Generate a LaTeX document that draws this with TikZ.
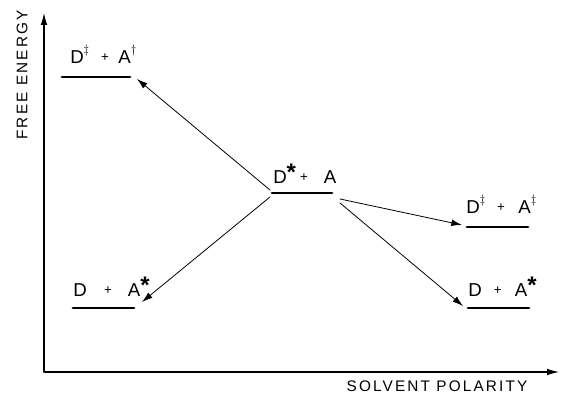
\documentclass[tikz,border=0pt]{standalone}
\usepackage{fontspec}
\setmainfont{Liberation Sans}
\newfontfamily\axisfont[LetterSpace=14]{Liberation Sans}
\usepackage{tkz-euclide}
\usetikzlibrary{arrows.meta}
\newcommand\pl{\raisebox{0.25ex}{\fontsize{10}{10}\selectfont +}}
\newcommand\st{\raisebox{0.35ex}{\bfseries\fontsize{18}{18}\selectfont *}}
\newcommand\dg[1]{\raisebox{1.1ex}{\fontsize{9}{9}\selectfont$#1$}}

\begin{document}
\begin{tikzpicture}[x=0.75pt,y=-0.75pt,
  level/.style={line width=2.2pt},
  trans/.style={line width=0.6pt,-{Latex[length=8pt,width=5pt]}},
  axis/.style={line width=0.8pt,-{Latex[length=9pt,width=5pt]}},
  lbl/.style={font=\fontsize{14}{16}\selectfont,inner sep=0pt,anchor=base west},
  axlbl/.style={font=\axisfont\fontsize{11.5}{13}\selectfont,inner sep=0pt}]
\useasboundingbox (0,0) rectangle (561,402);

\tkzDefPoints{44/372/O,44/13/Y,559/372/X}
% energy levels
\tkzDefPoints{62/77/P1,130/77/P2,272/193/M1,332/193/M2,467/227/Q1,528/227/Q2}
\tkzDefPoints{73/308/L1,134/308/L2,468/308/R1,529/308/R2}
% ends of the transitions
\tkzDefPoints{270/190/a1,137/79/a2,270/197/b1,142/302/b2}
\tkzDefPoints{340/199/c1,462/225/c2,340/203/d1,463/306/d2}

\tkzDrawSegments[axis](O,Y O,X)
\tkzDrawSegments[level](P1,P2 M1,M2 Q1,Q2 L1,L2 R1,R2)
\tkzDrawSegments[trans](a1,a2 b1,b2 c1,c2 d1,d2)

\node[lbl] (ionL) at (70,64) {D\dg{\ddagger}\hspace{9pt}\pl\hspace{7pt}A\dg{\dagger}};
\node[lbl] (exc) at (273,184) {D\st\hspace{3pt}\pl\hspace{12pt}A};
\node[lbl] (ionR) at (466,214) {D\dg{\ddagger}\hspace{9pt}\pl\hspace{10pt}A\dg{\ddagger}};
\node[lbl] (locL) at (73,297) {D\hspace{13pt}\pl\hspace{12pt}A\st};
\node[lbl] (locR) at (468,297) {D\hspace{9pt}\pl\hspace{10pt}A\st};

\node[axlbl,rotate=90] (yLbl) at (22,75) {FREE ENERGY};
\node[axlbl] (xLbl) at (437,386) {SOLVENT POLARITY};
\end{tikzpicture}
\end{document}
